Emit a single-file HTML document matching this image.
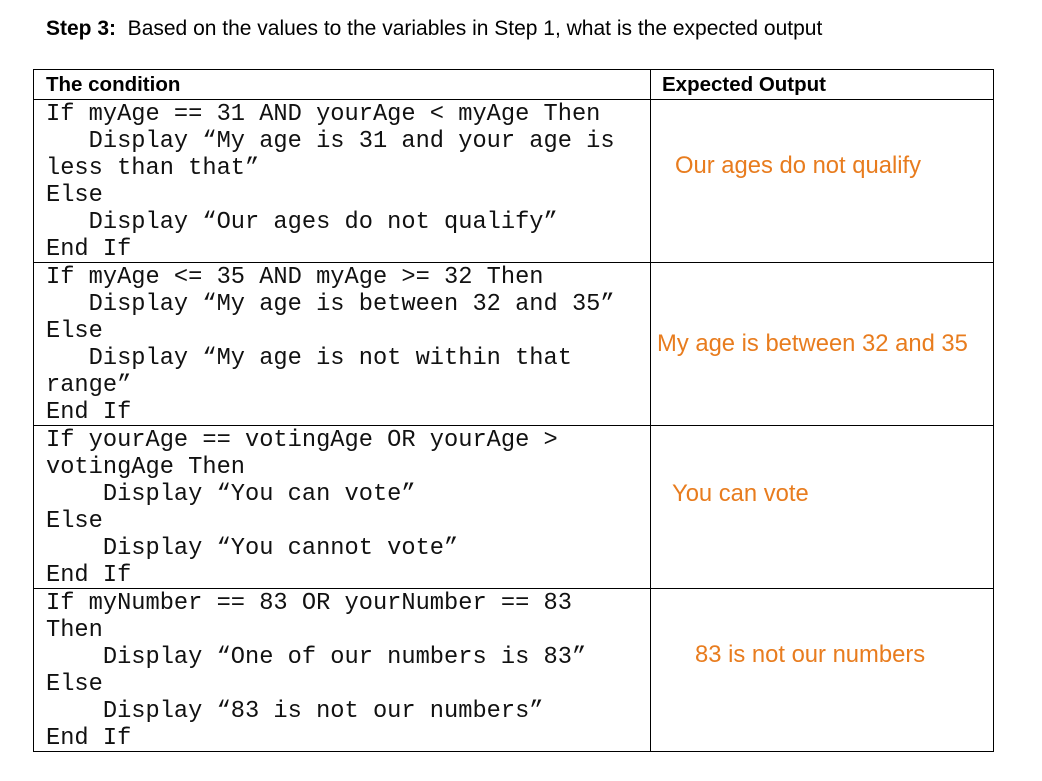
<!DOCTYPE html>
<html><head><meta charset="utf-8"><style>
body{margin:0;width:1042px;height:781px;background:#fff;position:relative;overflow:hidden}
.t{position:absolute;font-family:"Liberation Sans",Arial,sans-serif;color:#000;white-space:pre}
.code{position:absolute;font-family:"Liberation Mono","Courier New",monospace;font-size:23.7px;line-height:27px;white-space:pre;color:#111;left:46px}
.o{position:absolute;font-family:"Liberation Sans",Arial,sans-serif;font-size:23.8px;color:#E87C1E;white-space:pre}
.h{position:absolute;background:#000;height:1px}
.v{position:absolute;background:#000;width:1px}
</style></head><body>
<div class="t" style="left:46px;top:17px;font-size:21px"><b>Step 3:</b>  Based on the values to the variables in Step 1, what is the expected output</div>
<div class="h" style="left:33px;top:69px;width:961px"></div>
<div class="h" style="left:33px;top:99px;width:961px"></div>
<div class="h" style="left:33px;top:262px;width:961px"></div>
<div class="h" style="left:33px;top:425px;width:961px"></div>
<div class="h" style="left:33px;top:588px;width:961px"></div>
<div class="h" style="left:33px;top:751px;width:961px"></div>
<div class="v" style="left:33px;top:69px;height:683px"></div>
<div class="v" style="left:650px;top:69px;height:683px"></div>
<div class="v" style="left:993px;top:69px;height:683px"></div>
<div class="t" style="left:46px;top:73px;font-size:20.5px;font-weight:bold">The condition</div>
<div class="t" style="left:662px;top:73px;font-size:20.5px;font-weight:bold">Expected Output</div>
<div class="code" style="top:101px">If myAge == 31 AND yourAge &lt; myAge Then
   Display “My age is 31 and your age is
less than that”
Else
   Display “Our ages do not qualify”
End If</div>
<div class="code" style="top:264px">If myAge &lt;= 35 AND myAge &gt;= 32 Then
   Display “My age is between 32 and 35”
Else
   Display “My age is not within that
range”
End If</div>
<div class="code" style="top:427px">If yourAge == votingAge OR yourAge &gt;
votingAge Then
    Display “You can vote”
Else
    Display “You cannot vote”
End If</div>
<div class="code" style="top:590px">If myNumber == 83 OR yourNumber == 83
Then
    Display “One of our numbers is 83”
Else
    Display “83 is not our numbers”
End If</div>
<div class="o" style="left:675px;top:152px">Our ages do not qualify</div>
<div class="o" style="left:657px;top:330px">My age is between 32 and 35</div>
<div class="o" style="left:672px;top:480px">You can vote</div>
<div class="o" style="left:695px;top:641px">83 is not our numbers</div>
</body></html>
